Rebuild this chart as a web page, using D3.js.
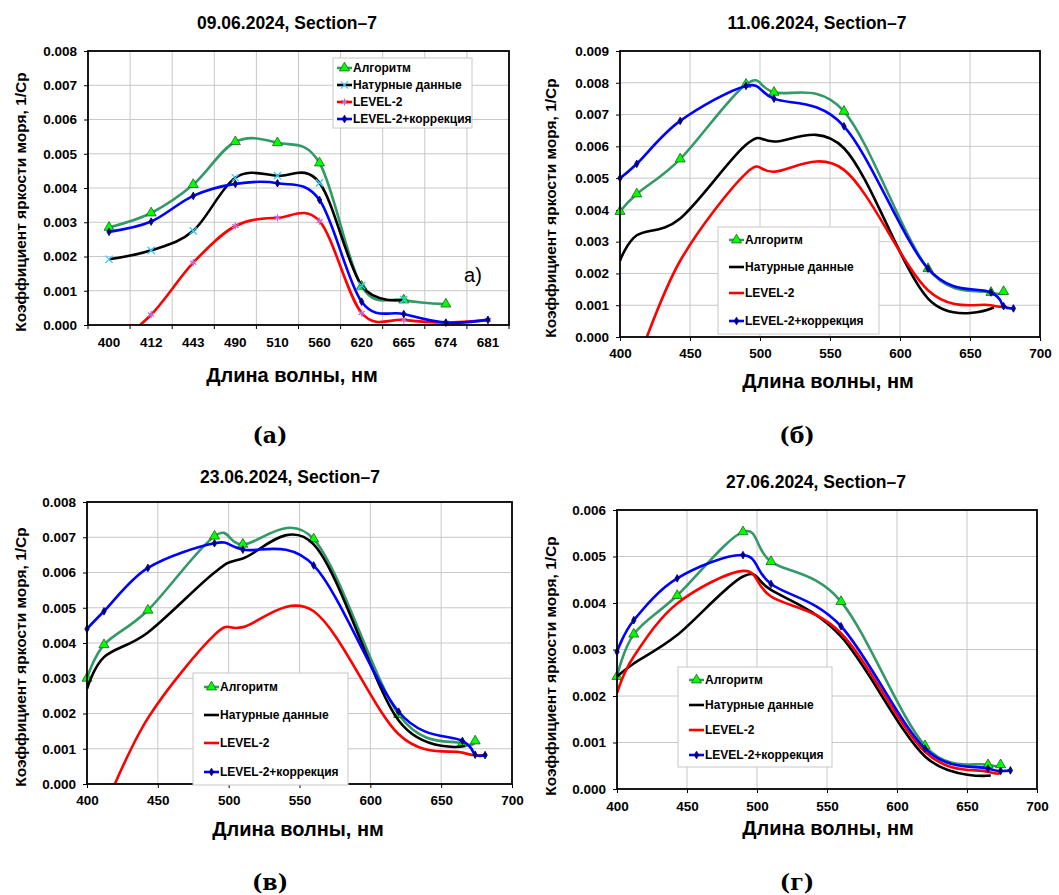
<!DOCTYPE html>
<html>
<head>
<meta charset="utf-8">
<script src="https://cdn.jsdelivr.net/npm/d3@7"></script>
<style>
    body { margin: 0; background: #fff; }
    text { font-family: "Liberation Sans", Arial, sans-serif; font-weight: bold; fill: #000; }
</style>
</head>
<body>
<div id="chart"></div>
<script>
// wavelengths (nm)
const wl = [400, 412, 443, 490, 510, 560, 620, 665, 674, 681];
const wlNat = [400, 412, 443, 490, 510, 560, 620, 667];
const xTicks = [400, 450, 500, 550, 600, 650, 700];
const seriesNames = ['Алгоритм', 'Натурные данные', 'LEVEL-2', 'LEVEL-2+коррекция'];

// (а) 09.06.2024
const algA = [0.00285, 0.00327, 0.0041, 0.00535, 0.00532, 0.00473, 0.00113, 0.00073, 0.00061];
const natA = [0.00192, 0.00218, 0.00275, 0.00430, 0.00436, 0.00415, 0.00115, 0.00074];
const l2A = [-0.0007, 0.0003, 0.00182, 0.00289, 0.00313, 0.00303, 0.00035, 0.00015, 0.00007, 0.00015];
const corA = [0.00272, 0.00302, 0.00377, 0.00412, 0.00414, 0.00365, 0.00068, 0.00032, 0.00007, 0.00015];

// (б) 11.06.2024
const algB = [0.00395, 0.0045, 0.0056, 0.00795, 0.0077, 0.0071, 0.00215, 0.0014, 0.00143];
const natB = [0.0024, 0.0032, 0.00373, 0.00605, 0.00615, 0.00594, 0.00121, 0.00093];
const l2B = [-0.002, -0.0008, 0.0024, 0.00515, 0.0052, 0.00526, 0.00147, 0.001, 0.00096];
const corB = [0.005, 0.00545, 0.0068, 0.0079, 0.0075, 0.00663, 0.00215, 0.0014, 0.00097, 0.0009];

// (в) 23.06.2024
const algV = [0.003, 0.00395, 0.00493, 0.00703, 0.0068, 0.00695, 0.00197, 0.00115, 0.00122];
const natV = [0.0027, 0.0036, 0.0043, 0.006, 0.0064, 0.0068, 0.0018, 0.00108];
const l2V = [-0.0019, -0.0007, 0.00187, 0.00423, 0.00445, 0.0049, 0.00141, 0.00089, 0.00082, 0.00082];
const corV = [0.0044, 0.0049, 0.00613, 0.00683, 0.00665, 0.0062, 0.00205, 0.00122, 0.00083, 0.00082];

// (г) 27.06.2024
const algG = [0.00242, 0.00333, 0.00416, 0.00553, 0.00489, 0.00403, 0.00093, 0.00052, 0.00052];
const natG = [0.00242, 0.0027, 0.00331, 0.00457, 0.00428, 0.00328, 0.0007, 0.00029];
const l2G = [0.00206, 0.00285, 0.00399, 0.00469, 0.00414, 0.00335, 0.0008, 0.00037, 0.00035];
const corG = [0.00295, 0.00363, 0.00453, 0.00503, 0.00441, 0.0035, 0.00087, 0.00044, 0.00039, 0.0004];

const panels = [
    { title: '09.06.2024, Section–7', caption: '(а)', cat: true, yMax: 0.008, data: [algA, natA, l2A, corA],
      left: 88, right: 509, top: 51, bottom: 325, titleXY: [287, 23], yTitleXY: [20, 202], xTitleXY: [292, 375],
      capXY: [270, 435], xLabPad: 12, legend: { x: 333, y: 58, w: 139, h: 70, rows: [68, 85, 102, 119], marks: true },
      note: [473, 275] },
    { title: '11.06.2024, Section–7', caption: '(б)', cat: false, yMax: 0.009, data: [algB, natB, l2B, corB],
      left: 620, right: 1040, top: 51, bottom: 337, titleXY: [817, 23], yTitleXY: [550, 208], xTitleXY: [828, 381],
      capXY: [797, 435], xLabPad: 7, legend: { x: 718, y: 227, w: 161, h: 107, rows: [240, 267, 293, 321] } },
    { title: '23.06.2024, Section–7', caption: '(в)', cat: false, yMax: 0.008, data: [algV, natV, l2V, corV],
      left: 87, right: 512, top: 502, bottom: 784, titleXY: [290, 477], yTitleXY: [20, 657], xTitleXY: [298, 829],
      capXY: [270, 882], xLabPad: 7, legend: { x: 193, y: 673, w: 155, h: 112, rows: [687, 715, 743, 772] } },
    { title: '27.06.2024, Section–7', caption: '(г)', cat: false, yMax: 0.006, data: [algG, natG, l2G, corG],
      left: 617, right: 1037, top: 510, bottom: 789, titleXY: [816, 482], yTitleXY: [550, 666], xTitleXY: [828, 828],
      capXY: [797, 882], xLabPad: 8, legend: { x: 678, y: 667, w: 154, h: 100, rows: [680, 705, 730, 755] } }
];

const styles = [
    { color: '#339966', marker: d3.symbolTriangle, size: 44, fill: '#00ff00', mstroke: '#1f5f1f', always: true },
    { color: '#000000', marker: d3.symbolTimes, size: 36, fill: 'none', mstroke: '#33ccff', always: false },
    { color: '#ff0000', marker: d3.symbolAsterisk, size: 36, fill: 'none', mstroke: '#cc66cc', always: false },
    { color: '#0000ff', marker: d3.symbolDiamond, size: 17, fill: '#000080', mstroke: '#000080', always: true }
];

const svg = d3.select('#chart').append('svg')
    .attr('width', 1059)
    .attr('height', 895);

const curve = d3.curveCardinal.tension(0);

function drawMarker(g, st, cx, cy) {
    g.append('path')
        .attr('d', d3.symbol().type(st.marker).size(st.size)())
        .attr('transform', `translate(${cx},${cy})`)
        .attr('fill', st.fill)
        .attr('stroke', st.mstroke)
        .attr('stroke-width', st.fill === 'none' ? 1.3 : 0.8);
}

panels.forEach((p, pi) => {
    const g = svg.append('g');
    const y = d3.scaleLinear().domain([0, p.yMax]).range([p.bottom, p.top]);
    const band = d3.scaleBand().domain(wl).range([p.left, p.right]);
    const lin = d3.scaleLinear().domain([400, 700]).range([p.left, p.right]);
    const xPos = p.cat ? (d => band(d) + band.bandwidth() / 2) : lin;
    const yTicks = d3.range(0, p.yMax + 1e-9, 0.001);

    // gridlines
    g.append('g').selectAll('line').data(yTicks.slice(1)).join('line')
        .attr('x1', p.left).attr('x2', p.right)
        .attr('y1', d => y(d)).attr('y2', d => y(d))
        .attr('stroke', '#c8c8c8').attr('stroke-width', 1);
    const vGrid = p.cat ? wl.slice(1).map(d => band(d)) : xTicks.slice(1, -1).map(d => lin(d));
    g.append('g').selectAll('line').data(vGrid).join('line')
        .attr('x1', d => d).attr('x2', d => d)
        .attr('y1', p.top).attr('y2', p.bottom)
        .attr('stroke', '#c8c8c8').attr('stroke-width', 1);

    // axes
    const yAxis = g.append('g')
        .attr('transform', `translate(${p.left},0)`)
        .call(d3.axisLeft(y).tickValues(yTicks).tickFormat(d3.format('.3f')).tickSize(4).tickPadding(7));
    yAxis.select('.domain').remove();
    yAxis.selectAll('text').style('font-size', '13.5px');

    let xAxis;
    if (p.cat) {
        xAxis = g.append('g')
            .attr('transform', `translate(0,${p.bottom})`)
            .call(d3.axisBottom(band).tickSize(0).tickPadding(p.xLabPad));
        const bounds = wl.map(d => band(d)).concat([p.right]);
        g.append('g').selectAll('line').data(bounds).join('line')
            .attr('x1', d => d).attr('x2', d => d)
            .attr('y1', p.bottom).attr('y2', p.bottom + 4)
            .attr('stroke', '#000');
    } else {
        xAxis = g.append('g')
            .attr('transform', `translate(0,${p.bottom})`)
            .call(d3.axisBottom(lin).tickValues(xTicks).tickFormat(d3.format('d')).tickSize(4).tickPadding(p.xLabPad));
    }
    xAxis.select('.domain').remove();
    xAxis.selectAll('text').style('font-size', '13.5px');

    // clip for plot area
    const clipId = 'clip' + pi;
    g.append('clipPath').attr('id', clipId)
        .append('rect')
        .attr('x', p.left).attr('y', p.top)
        .attr('width', p.right - p.left).attr('height', p.bottom - p.top);

    // series
    p.data.forEach((vals, si) => {
        const st = styles[si];
        const xs = si === 1 && !p.cat ? wlNat : wl;
        const pts = vals.map((v, i) => [xPos(xs[i]), y(v), v]);
        g.append('path')
            .attr('d', d3.line().curve(curve)(pts.map(d => [d[0], d[1]])))
            .attr('fill', 'none')
            .attr('stroke', st.color)
            .attr('stroke-width', 2.6)
            .attr('clip-path', `url(#${clipId})`);
        if (st.always || p.cat) {
            const mg = g.append('g');
            pts.filter(d => d[2] >= 0).forEach(d => drawMarker(mg, st, d[0], d[1]));
        }
    });

    // frame
    g.append('rect')
        .attr('x', p.left).attr('y', p.top)
        .attr('width', p.right - p.left).attr('height', p.bottom - p.top)
        .attr('fill', 'none').attr('stroke', '#000').attr('stroke-width', 1.8);

    // legend
    const L = p.legend;
    const lg = g.append('g');
    lg.append('rect')
        .attr('x', L.x).attr('y', L.y).attr('width', L.w).attr('height', L.h)
        .attr('fill', '#fff').attr('stroke', '#c8c8c8');
    seriesNames.forEach((name, si) => {
        const st = styles[si];
        const ly = L.rows[si];
        const lx = L.x + (p.cat ? 4 : 11);
        lg.append('line')
            .attr('x1', lx).attr('x2', lx + 15)
            .attr('y1', ly).attr('y2', ly)
            .attr('stroke', st.color).attr('stroke-width', 2.6);
        if (st.always || L.marks) drawMarker(lg, st, lx + 7.5, ly);
        lg.append('text')
            .attr('x', lx + 16).attr('y', ly)
            .attr('dominant-baseline', 'central')
            .style('font-size', '12px')
            .text(name);
    });

    // titles
    g.append('text')
        .attr('x', p.titleXY[0]).attr('y', p.titleXY[1])
        .attr('text-anchor', 'middle').attr('dominant-baseline', 'central')
        .style('font-size', '17.5px')
        .text(p.title);
    g.append('text')
        .attr('transform', `translate(${p.yTitleXY[0]},${p.yTitleXY[1]}) rotate(-90)`)
        .attr('text-anchor', 'middle').attr('dominant-baseline', 'central')
        .style('font-size', '15.5px')
        .text('Коэффициент яркости моря, 1/Ср');
    g.append('text')
        .attr('x', p.xTitleXY[0]).attr('y', p.xTitleXY[1])
        .attr('text-anchor', 'middle').attr('dominant-baseline', 'central')
        .style('font-size', '20px')
        .text('Длина волны, нм');
    g.append('text')
        .attr('x', p.capXY[0]).attr('y', p.capXY[1])
        .attr('text-anchor', 'middle').attr('dominant-baseline', 'central')
        .style('font-family', '"DejaVu Serif", serif')
        .style('font-size', '22px')
        .text(p.caption);
    if (p.note) {
        g.append('text')
            .attr('x', p.note[0]).attr('y', p.note[1])
            .attr('text-anchor', 'middle').attr('dominant-baseline', 'central')
            .style('font-weight', 'normal')
            .style('font-size', '20px')
            .text('a)');
    }
});
</script>
</body>
</html>
